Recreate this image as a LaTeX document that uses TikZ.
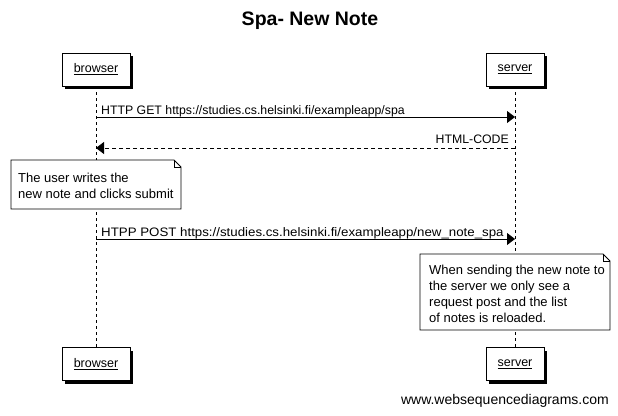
\documentclass[tikz,border=0pt]{standalone}
\usepackage{fontspec}
\setmainfont{Liberation Sans}
\usetikzlibrary{arrows.meta,shadows}

\tikzset{
  actor/.style={draw, fill=white, line width=0.8pt, minimum width=68pt, minimum height=33pt,
    inner sep=0pt, font=\fontsize{12.5}{14}\selectfont,
    general shadow={fill=black, shadow xshift=3pt, shadow yshift=-3pt}},
  lifeline/.style={line width=0.7pt, dash pattern=on 3pt off 3pt},
  msg/.style={line width=0.8pt, -{Triangle[length=8pt,width=12pt]}},
  reply/.style={msg, dash pattern=on 4pt off 3pt},
  msglabel/.style={inner sep=0pt, font=\fontsize{12.3}{14}\selectfont},
  notetext/.style={inner sep=0pt, align=left, anchor=north west,
    font=\fontsize{13}{16}\selectfont},
  notebox/.style={draw, fill=white, line width=0.8pt}
}

\begin{document}
\begin{tikzpicture}[x=1pt,y=-1pt]
  \useasboundingbox (0,0) rectangle (618,415);
  \fill[white] (0,0) rectangle (618,415);

  % title
  \node[font=\fontsize{19.5}{22}\bfseries] (title) at (310,21) {Spa- New Note};

  % lifelines
  \draw[lifeline] (96,86) -- (96,348);
  \draw[lifeline] (515,86) -- (515,348);

  % participants
  \node[actor] (browserTop) at (96,69.5) {\underline{browser}};
  \node[actor, minimum width=58pt] (serverTop) at (515,69.5) {\underline{server}};
  \node[actor] (browserBot) at (96,364) {\underline{browser}};
  \node[actor, minimum width=58pt] (serverBot) at (515,364) {\underline{server}};

  % message end points
  \coordinate (b1) at (96,117);  \coordinate (s1) at (515,117);
  \coordinate (b2) at (96,148);  \coordinate (s2) at (515,148);
  \coordinate (b3) at (96,239);  \coordinate (s3) at (515,239);

  \draw[msg] (b1) -- (s1);
  \node[msglabel, anchor=base west] (getLabel) at (101,114)
    {HTTP GET https://studies.cs.helsinki.fi/exampleapp/spa};

  \draw[reply] (s2) -- (b2);
  \node[msglabel, anchor=base east] (htmlLabel) at (509,143) {HTML-CODE};

  % note on browser
  \filldraw[notebox] (11,160) -- (174,160) -- (181,167) -- (181,209) -- (11,209) -- cycle;
  \draw[line width=0.6pt] (174,160) -- (174,167) -- (181,167);
  \node[notetext] (userNote) at (18,173) {The user writes the\\new note and clicks submit};

  \draw[msg] (b3) -- (s3);
  \node[msglabel, anchor=base west, xscale=1.08] (postLabel) at (101,236)
    {HTPP POST https://studies.cs.helsinki.fi/exampleapp/new\textunderscore note\textunderscore spa};

  % note on server
  \filldraw[notebox] (420,254) -- (603,254) -- (610,261) -- (610,330) -- (420,330) -- cycle;
  \draw[line width=0.6pt] (603,254) -- (603,261) -- (610,261);
  \node[notetext] (serverNote) at (429,265)
    {When sending the new note to\\the server we only see a\\request post and the list\\of notes is reloaded.};

  % footer
  \node[msglabel, anchor=base east, font=\fontsize{14}{16}\selectfont] (footer) at (609,404)
    {www.websequencediagrams.com};
\end{tikzpicture}
\end{document}
